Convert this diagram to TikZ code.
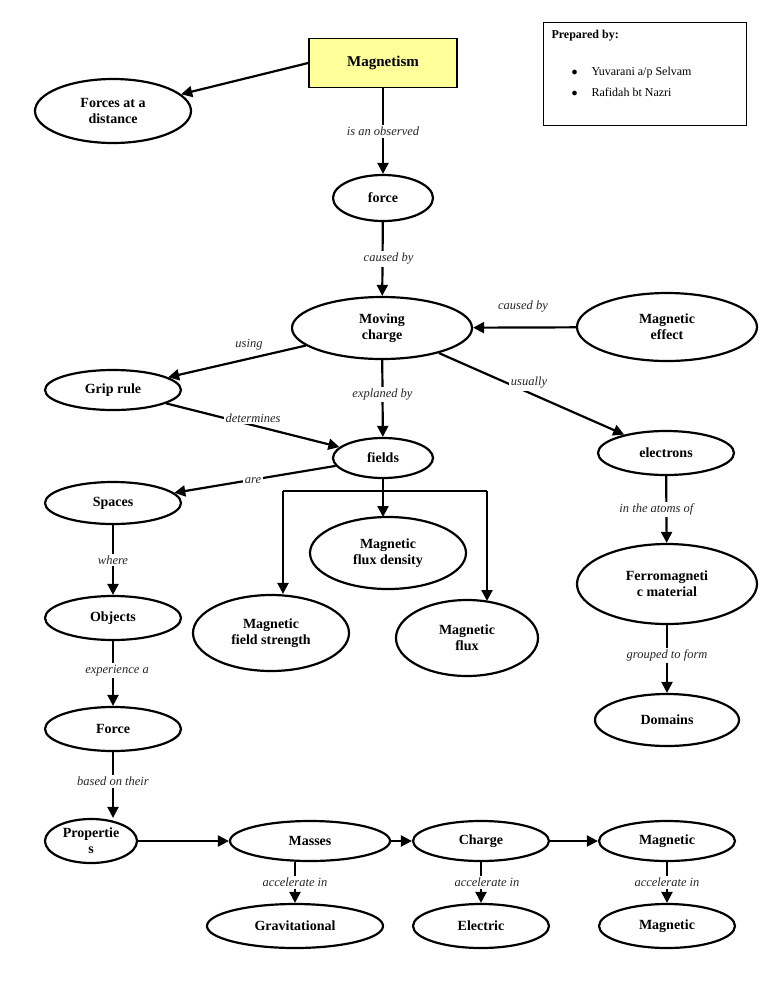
\documentclass[tikz,border=0pt]{standalone}
\usepackage{fontspec}
\setmainfont{Liberation Serif}
\usetikzlibrary{shapes.geometric,arrows.meta}
\begin{document}
\begin{tikzpicture}[x=1pt,y=-1pt,
 el/.style={ellipse,draw,line width=2.2pt,font=\bfseries\fontsize{14}{16}\selectfont,align=center,inner sep=0pt},
 ar/.style={line width=2.2pt,-{Triangle[length=11pt,width=11pt]}},
 ln/.style={line width=2.2pt},
 lb/.style={fill=white,font=\itshape\fontsize{12.5}{14}\selectfont,inner sep=2pt,text=black!85}]
\useasboundingbox (0,0) rectangle (768,994);
\node[draw,line width=1.6pt,fill=yellow!40!white!95!yellow,fill={rgb,255:red,255;green,255;blue,153},minimum width=148pt,minimum height=49pt,font=\bfseries\fontsize{15}{17}\selectfont] (mag) at (383,63) {Magnetism};
\node[draw,line width=0.6pt,minimum width=203pt,minimum height=103pt] (prep) at (644.5,73.5) {};
\node[anchor=north west,font=\bfseries\fontsize{12}{14}\selectfont] (pb) at (548,27) {Prepared by:};
\node[anchor=west,font=\fontsize{12}{14}\selectfont] (p1) at (568,73) {$\bullet$\hspace{14pt}Yuvarani a/p Selvam};
\node[anchor=west,font=\fontsize{12}{14}\selectfont] (p2) at (568,92) {$\bullet$\hspace{14pt}Rafidah bt Nazri};

\node[el,minimum width=156pt,minimum height=64pt] (fad) at (113,111) {Forces at a\\distance};
\node[el,minimum width=100pt,minimum height=46pt] (force) at (383,198) {force};
\node[el,minimum width=180pt,minimum height=62pt] (mc) at (382,328) {Moving\\charge};
\node[el,minimum width=180pt,minimum height=68pt] (me) at (667,327) {Magnetic\\effect};
\node[el,minimum width=136pt,minimum height=40pt] (grip) at (113,390) {Grip rule};
\node[el,minimum width=100pt,minimum height=40pt] (fields) at (383,458) {fields};
\node[el,minimum width=136pt,minimum height=44pt] (elec) at (666,453) {electrons};
\node[el,minimum width=136pt,minimum height=42pt] (spaces) at (113,503) {Spaces};
\node[el,minimum width=156pt,minimum height=72pt] (mfd) at (388,553) {Magnetic\\flux density};
\node[el,minimum width=180pt,minimum height=80pt] (ferro) at (667,584) {Ferromagneti\\c material};
\node[el,minimum width=136pt,minimum height=44pt] (obj) at (113,618) {Objects};
\node[el,minimum width=156pt,minimum height=76pt] (mfs) at (271,633) {Magnetic\\field strength};
\node[el,minimum width=142pt,minimum height=76pt] (mf) at (467,638) {Magnetic\\flux};
\node[el,minimum width=144pt,minimum height=52pt] (dom) at (667,720) {Domains};
\node[el,minimum width=136pt,minimum height=44pt] (Force) at (113,729) {Force};
\node[el,minimum width=92pt,minimum height=44pt] (prop) at (91,841) {Propertie\\s};
\node[el,minimum width=160pt,minimum height=40pt] (mass) at (310,841) {Masses};
\node[el,minimum width=136pt,minimum height=40pt] (charge) at (481,841) {Charge};
\node[el,minimum width=136pt,minimum height=40pt] (magn) at (667,841) {Magnetic};
\node[el,minimum width=176pt,minimum height=44pt] (grav) at (295,926) {Gravitational};
\node[el,minimum width=136pt,minimum height=44pt] (elf) at (481,926) {Electric};
\node[el,minimum width=136pt,minimum height=44pt] (magf) at (667,926) {Magnetic};

\draw[ar] (mag.west) -- (fad);
\draw[ar] (mag) -- node[lb,pos=0.5]{is an observed} (force);
\draw[ar] (force) -- node[lb,pos=0.5,xshift=6pt]{caused by} (mc);
\draw[ar] (me) -- (mc);
\node[lb] (l1) at (523,307) {caused by};
\draw[ar] (mc) -- (grip);
\node[lb,fill=none] (l2) at (249,345) {using};
\draw[ar] (grip) -- (fields);
\node[lb] (l3) at (253,418) {determines};
\draw[ar] (mc) -- node[lb,pos=0.45]{explaned by} (fields);
\draw[ar] (mc) -- (elec);
\node[lb] (l4) at (529,383) {usually};
\draw[ar] (fields) -- (spaces);
\node[lb] (l5) at (253,481) {are};
\coordinate (hl) at (283,491);
\coordinate (hr) at (487,491);
\draw[ln] (fields.south) -- (383,491);
\draw[ln] (hl) -- (hr);
\draw[ar] (hl) -- (mfs.north -| hl);
\draw[ar] (383,491) -- (383,517);
\draw[ar] (hr) -- (487,601);
\draw[ar] (elec) -- node[lb,pos=0.5,xshift=-10pt]{in the atoms of} (ferro);
\draw[ar] (ferro) -- node[lb,pos=0.45]{grouped to form} (dom);
\draw[ar] (spaces) -- node[lb,pos=0.5]{where} (obj);
\draw[ar] (obj) -- node[lb,pos=0.45,xshift=4pt]{experience a} (Force);
\draw[ar] (Force) -- node[lb,pos=0.45]{based on their} (Force.south |- prop.north);
\draw[ar] (prop) -- (mass);
\draw[ar] (mass) -- (charge);
\draw[ar] (charge) -- (magn);
\draw[ar] (mass.south -| grav) -- node[lb,pos=0.5]{accelerate in} (grav);
\draw[ar] (charge) -- node[lb,pos=0.5,xshift=6pt]{accelerate in} (elf);
\draw[ar] (magn) -- node[lb,pos=0.5]{accelerate in} (magf);
\end{tikzpicture}
\end{document}
